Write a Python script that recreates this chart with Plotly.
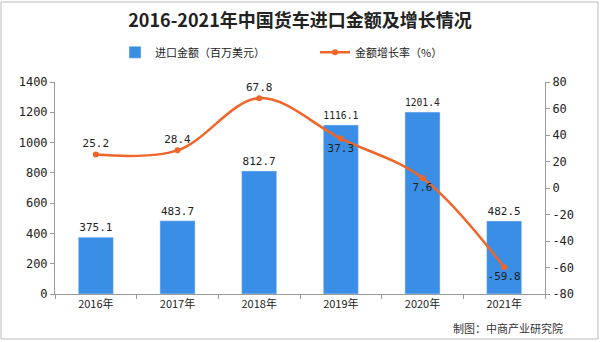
import plotly.graph_objects as go

years = ["2016年", "2017年", "2018年", "2019年", "2020年", "2021年"]
import_amount = [375.1, 483.7, 812.7, 1116.1, 1201.4, 482.5]
growth_rate = [25.2, 28.4, 67.8, 37.3, 7.6, -59.8]
growth_text_pos = ["top center", "top center", "top center", "bottom center", "bottom center", "bottom center"]
left_ticks = [0, 200, 400, 600, 800, 1000, 1200, 1400]
right_ticks = [-80, -60, -40, -20, 0, 20, 40, 60, 80]

BLUE = "#3a8ee6"
ORANGE = "#f0662a"
NUMFONT = "DejaVu Sans Mono, Noto Sans CJK SC"
CJK = "Noto Sans CJK SC"

fig = go.Figure()
fig.add_trace(go.Bar(
    x=years, y=import_amount, name="进口金额（百万美元）",
    marker=dict(color=BLUE), width=0.43,
    text=[f"{v:.1f}" for v in import_amount], textposition="outside",
    textfont=dict(family=NUMFONT, size=11, color="#222"), cliponaxis=False,
    yaxis="y", legend="legend", showlegend=True,
))
fig.add_trace(go.Scatter(
    x=years, y=growth_rate, name="金额增长率（%）", mode="lines+markers+text",
    line=dict(color=ORANGE, width=2.5, shape="spline", smoothing=1.0),
    marker=dict(color=ORANGE, size=6),
    text=[f"{v:.1f}" for v in growth_rate], textposition=growth_text_pos,
    textfont=dict(family=NUMFONT, size=11, color="#222"), cliponaxis=False,
    yaxis="y2", legend="legend2", showlegend=True,
))

legend_common = dict(orientation="h", xanchor="left", y=1.14, yanchor="middle",
                     font=dict(family=CJK, size=11, color="#222"), itemwidth=30,
                     bgcolor="rgba(0,0,0,0)", visible=True)

fig.update_layout(
    width=600, height=342,
    showlegend=True,
    margin=dict(l=55, r=55, t=82, b=48),
    paper_bgcolor="white", plot_bgcolor="white",
    title=dict(text="<b>2016-2021年中国货车进口金额及增长情况</b>", x=0.5, xanchor="center",
               y=0.94, yanchor="middle", font=dict(family=CJK, size=18, color="#222")),
    legend=dict(x=(115 - 55) / 490, **legend_common),
    legend2=dict(x=(315 - 55) / 490, **legend_common),
    bargap=0.57,
    xaxis=dict(showline=True, linecolor="#999", ticks="outside", tickson="boundaries",
               tickcolor="#999", ticklen=4, tickfont=dict(family=CJK, size=11, color="#222"),
               showgrid=False),
    yaxis=dict(range=[0, 1400], tickvals=left_ticks, ticktext=[str(v) for v in left_ticks],
               showline=True, linecolor="#999", ticks="outside",
               tickcolor="#999", ticklen=4, showgrid=False, zeroline=False,
               tickfont=dict(family=NUMFONT, size=12, color="#222")),
    yaxis2=dict(range=[-80, 80], tickvals=right_ticks, ticktext=[str(v) for v in right_ticks],
                overlaying="y", side="right", showline=True,
                linecolor="#999", ticks="outside", tickcolor="#999", ticklen=4,
                showgrid=False, zeroline=False,
                tickfont=dict(family=NUMFONT, size=12, color="#222")),
    annotations=[dict(text="制图：中商产业研究院", xref="paper", yref="paper",
                      x=1.04, y=-0.16, xanchor="right", yanchor="middle", showarrow=False,
                      font=dict(family=CJK, size=11, color="#333"))],
    shapes=[dict(type="rect", xref="paper", yref="paper",
                 x0=(1 - 55) / 490, x1=(598 - 55) / 490,
                 y0=(294 - 339) / 212, y1=(294 - 2) / 212,
                 line=dict(color="#bbb", width=1))],
)

fig.write_html("out.html")
